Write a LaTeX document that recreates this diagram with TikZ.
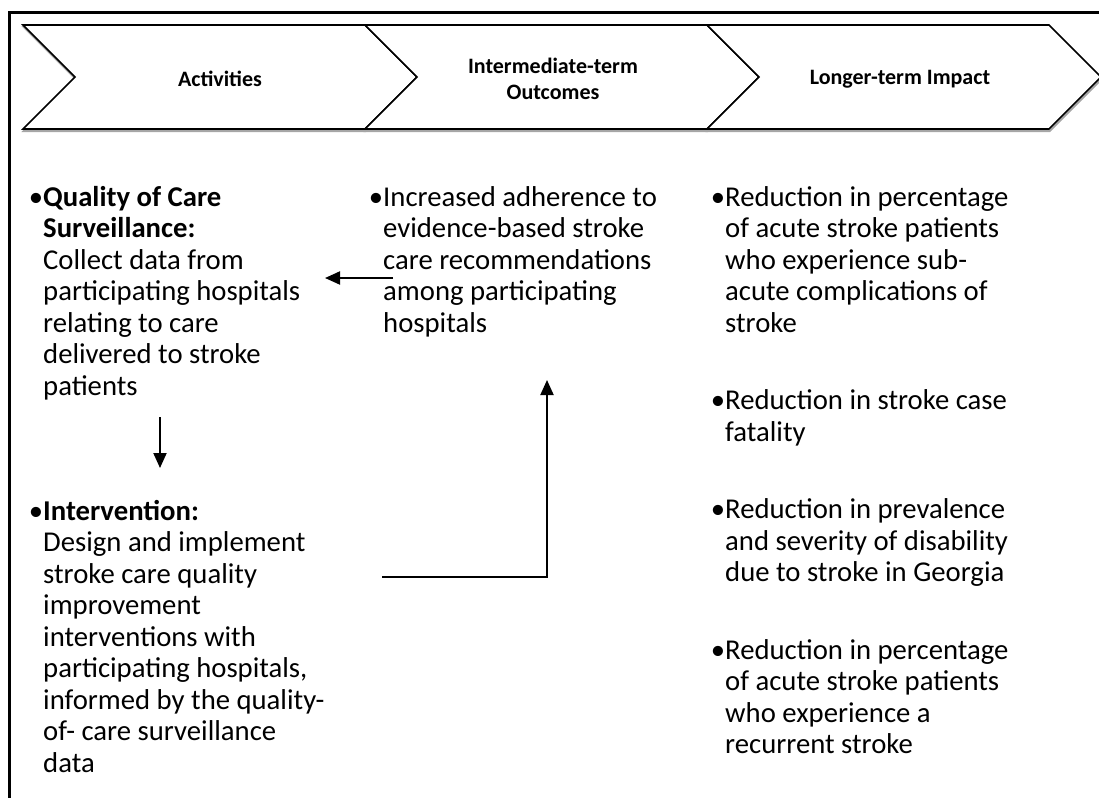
\documentclass[tikz,border=0pt]{standalone}
\usepackage{fontspec}
\setmainfont{Carlito}
\usetikzlibrary{arrows.meta}
\begin{document}
\begin{tikzpicture}[x=1pt,y=-1pt,
  chev/.style={draw=black,line width=1.6pt,line join=miter,fill=white},
  chevshadow/.style={draw=black!35,line width=2pt,line join=miter,shift={(0.8,2)}},
  hdr/.style={font=\fontsize{22}{26}\selectfont\bfseries,align=center,inner sep=0pt},
  body/.style={font=\fontsize{28.7}{31.5}\selectfont,inner sep=0pt,anchor=base west},
  conn/.style={line width=2pt,-{Triangle[length=15pt,width=13pt]}}]
\useasboundingbox (0,0) rectangle (1099,797);
\begin{scope}
\clip (0,0) rectangle (1099,797);
% frame
\draw[line width=3pt] (9,805) -- (9,13) -- (1105,13);
% chevron shadows
\draw[chevshadow] (23,25) -- (365,25) -- (417,77) -- (365,129) -- (23,129) -- (75,77) -- cycle;
\draw[chevshadow] (365,25) -- (707,25) -- (759,77) -- (707,129) -- (365,129) -- (417,77) -- cycle;
\draw[chevshadow] (707,25) -- (1049,25) -- (1101,77) -- (1049,129) -- (707,129) -- (759,77) -- cycle;
% chevrons
\draw[chev] (23,25) -- (365,25) -- (417,77) -- (365,129) -- (23,129) -- (75,77) -- cycle;
\draw[chev] (365,25) -- (707,25) -- (759,77) -- (707,129) -- (365,129) -- (417,77) -- cycle;
\draw[chev] (707,25) -- (1049,25) -- (1101,77) -- (1049,129) -- (707,129) -- (759,77) -- cycle;
\end{scope}
\node[hdr] (h1) at (220,79) {Activities};
\node[hdr] (h2) at (553,79) {Intermediate-term\\Outcomes};
\node[hdr] (h3) at (900,79) {Longer-term Impact};
% left column
\node[body] (q) at (43,206) {\begin{tabular}[t]{@{}l@{}}\llap{•}\textbf{Quality of Care}\\ \textbf{Surveillance:}\\ Collect data from\\ participating hospitals\\ relating to care\\ delivered to stroke\\ patients\end{tabular}};
\node[body] (iv) at (43,520) {\begin{tabular}[t]{@{}l@{}}\llap{•}\textbf{Intervention:}\\ Design and implement\\ stroke care quality\\ improvement\\ interventions with\\ participating hospitals,\\ informed by the quality-\\ of- care surveillance\\ data\end{tabular}};
% middle column
\node[body] (m) at (383,206) {\begin{tabular}[t]{@{}l@{}}\llap{•}Increased adherence to\\ evidence-based stroke\\ care recommendations\\ among participating\\ hospitals\end{tabular}};
% right column
\node[body] (r1) at (725,206) {\begin{tabular}[t]{@{}l@{}}\llap{•}Reduction in percentage\\ of acute stroke patients\\ who experience sub-\\ acute complications of\\ stroke\end{tabular}};
\node[body] (r2) at (725,409.5) {\begin{tabular}[t]{@{}l@{}}\llap{•}Reduction in stroke case\\ fatality\end{tabular}};
\node[body] (r3) at (725,518.5) {\begin{tabular}[t]{@{}l@{}}\llap{•}Reduction in prevalence\\ and severity of disability\\ due to stroke in Georgia\end{tabular}};
\node[body] (r4) at (725,659) {\begin{tabular}[t]{@{}l@{}}\llap{•}Reduction in percentage\\ of acute stroke patients\\ who experience a\\ recurrent stroke\end{tabular}};
% connectors
\coordinate (a1s) at (393,278);
\coordinate (a1e) at (325,278);
\draw[conn] (a1s) -- (a1e);
\coordinate (a2s) at (160,417);
\coordinate (a2e) at (160,468);
\draw[conn] (a2s) -- (a2e);
\coordinate (a3s) at (382,577);
\coordinate (a3c) at (547,577);
\coordinate (a3e) at (547,380);
\draw[conn,line join=miter] (a3s) -- (a3c) -- (a3e);
\end{tikzpicture}
\end{document}
